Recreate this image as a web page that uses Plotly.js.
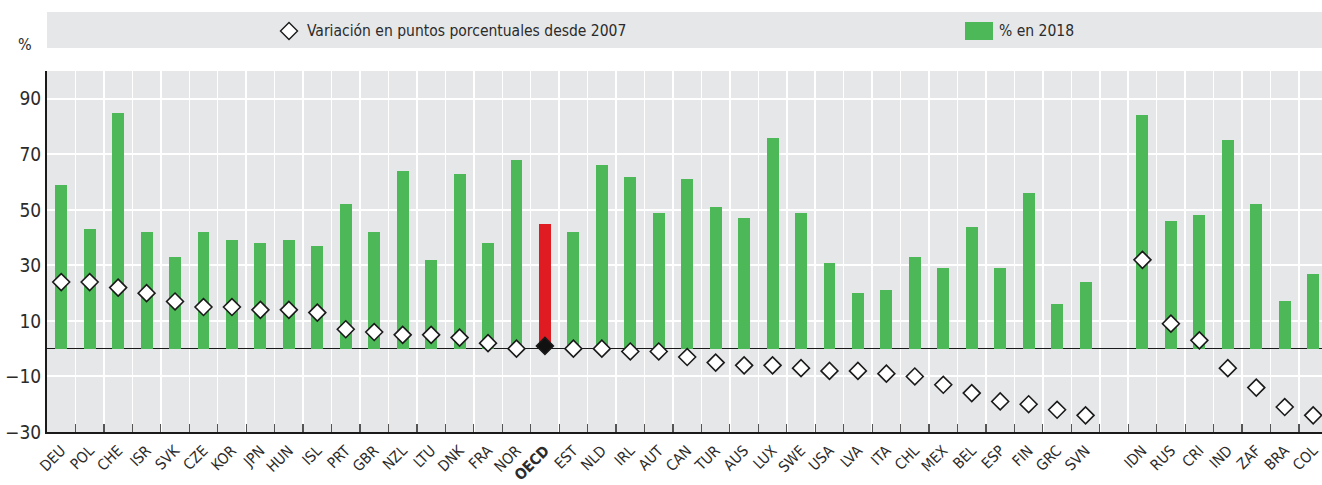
<!DOCTYPE html>
<html>
<head>
<meta charset="utf-8">
<script src="https://cdn.plot.ly/plotly-3.0.1.min.js"></script>
<style>
  html, body { margin: 0; padding: 0; background: #ffffff; }
  #chart { width: 1322px; height: 485px; }
</style>
</head>
<body>
<div id="chart"></div>
<script>
// ---- Data ----
const categories = ["DEU","POL","CHE","ISR","SVK","CZE","KOR","JPN","HUN","ISL","PRT","GBR","NZL","LTU","DNK","FRA","NOR","OECD","EST","NLD","IRL","AUT","CAN","TUR","AUS","LUX","SWE","USA","LVA","ITA","CHL","MEX","BEL","ESP","FIN","GRC","SVN"," ","IDN","RUS","CRI","IND","ZAF","BRA","COL"];
const share2018 = [59,43,85,42,33,42,39,38,39,37,52,42,64,32,63,38,68,45,42,66,62,49,61,51,47,76,49,31,20,21,33,29,44,29,56,16,24,null,84,46,48,75,52,17,27];
const change2007 = [24,24,22,20,17,15,15,14,14,13,7,6,5,5,4,2,0,1,0,0,-1,-1,-3,-5,-6,-6,-7,-8,-8,-9,-10,-13,-16,-19,-20,-22,-24,null,32,9,3,-7,-14,-21,-24];
const yTicks = [-30,-10,10,30,50,70,90];
const legendChange = "Variación en puntos porcentuales desde 2007";
const legendShare = "% en 2018";
const highlight = "OECD";

// ---- Style ----
const GREEN = "#4cb858";
const RED = "#e01b22";
const BG = "#e6e7e9";
const TXT = "#2b2b2b";
const NARROW = "'Liberation Sans Narrow', 'Arial Narrow', 'DejaVu Sans Condensed', sans-serif";

const W = 1322, H = 485;
const M = {l: 47, r: 0, t: 71, b: 53};
const plotW = W - M.l - M.r, plotH = H - M.t - M.b;
const px2paperX = x => (x - M.l) / plotW;
const px2paperY = y => 1 + (M.t - y) / plotH;

const barColors = categories.map(c => c === highlight ? RED : GREEN);
const diaFill = categories.map(c => c === highlight ? "#111111" : "#ffffff");
const tickText = categories.map(c => c === highlight ? "<b>" + c + "</b>" : c);

const traces = [
  {
    type: "bar",
    x: categories,
    y: share2018,
    width: 0.42,
    marker: {color: barColors, line: {width: 0}},
    name: legendShare,
    hoverinfo: "x+y"
  },
  {
    type: "scatter",
    mode: "markers",
    x: categories,
    y: change2007,
    marker: {symbol: "diamond", size: 13, color: diaFill, line: {color: "#1a1a1a", width: 1.6}},
    name: legendChange,
    hoverinfo: "x+y"
  }
];

const layout = {
  width: W, height: H,
  margin: M,
  paper_bgcolor: "#ffffff",
  plot_bgcolor: BG,
  showlegend: false,
  bargap: 0,
  font: {family: NARROW, color: TXT},
  xaxis: {
    type: "category",
    categoryorder: "array",
    categoryarray: categories,
    tickmode: "array",
    tickvals: categories,
    ticktext: tickText,
    tickson: "boundaries",
    tickangle: -45,
    ticks: "inside",
    ticklen: 8,
    tickcolor: "#555555",
    tickwidth: 1.2,
    ticklabelstandoff: 2,
    tickfont: {family: NARROW, size: 15, color: TXT},
    showgrid: true,
    gridcolor: "#ffffff",
    gridwidth: 1.5,
    showline: true,
    linecolor: "#1a1a1a",
    linewidth: 2,
    range: [-0.5, 44.31],
    fixedrange: true,
    zeroline: false
  },
  yaxis: {
    range: [-30, 100],
    tickmode: "array",
    tickvals: yTicks,
    ticks: "",
    ticklabelstandoff: 0,
    tickfont: {family: NARROW, size: 19, color: TXT},
    showgrid: true,
    gridcolor: "#ffffff",
    gridwidth: 2,
    showline: true,
    linecolor: "#1a1a1a",
    linewidth: 2,
    zeroline: true,
    zerolinecolor: "#1a1a1a",
    zerolinewidth: 1.6,
    fixedrange: true
  },
  shapes: [
    // legend band
    {type: "rect", xref: "paper", yref: "paper",
     x0: px2paperX(47), x1: px2paperX(1322), y0: px2paperY(48), y1: px2paperY(12),
     fillcolor: BG, line: {width: 0}, layer: "below"},
    // legend diamond
    {type: "path", xref: "paper", yref: "paper",
     xsizemode: "pixel", ysizemode: "pixel",
     xanchor: px2paperX(289), yanchor: px2paperY(31),
     path: "M 0 8.5 L 8.5 0 L 0 -8.5 L -8.5 0 Z",
     fillcolor: "#ffffff", line: {color: "#1a1a1a", width: 1.4}},
    // legend green swatch
    {type: "rect", xref: "paper", yref: "paper",
     x0: px2paperX(965), x1: px2paperX(993), y0: px2paperY(40), y1: px2paperY(22),
     fillcolor: GREEN, line: {width: 0}}
  ],
  annotations: [
    {xref: "paper", yref: "paper", x: px2paperX(305), y: px2paperY(31),
     xanchor: "left", yanchor: "middle", showarrow: false,
     text: legendChange, font: {family: NARROW, size: 15.5, color: TXT}},
    {xref: "paper", yref: "paper", x: px2paperX(997), y: px2paperY(31),
     xanchor: "left", yanchor: "middle", showarrow: false,
     text: legendShare, font: {family: NARROW, size: 15.5, color: TXT}},
    {xref: "paper", yref: "paper", x: px2paperX(25), y: px2paperY(44),
     xanchor: "center", yanchor: "middle", showarrow: false,
     text: "%", font: {family: NARROW, size: 16, color: TXT}}
  ]
};

Plotly.newPlot("chart", traces, layout, {displayModeBar: false, staticPlot: true});
</script>
</body>
</html>
